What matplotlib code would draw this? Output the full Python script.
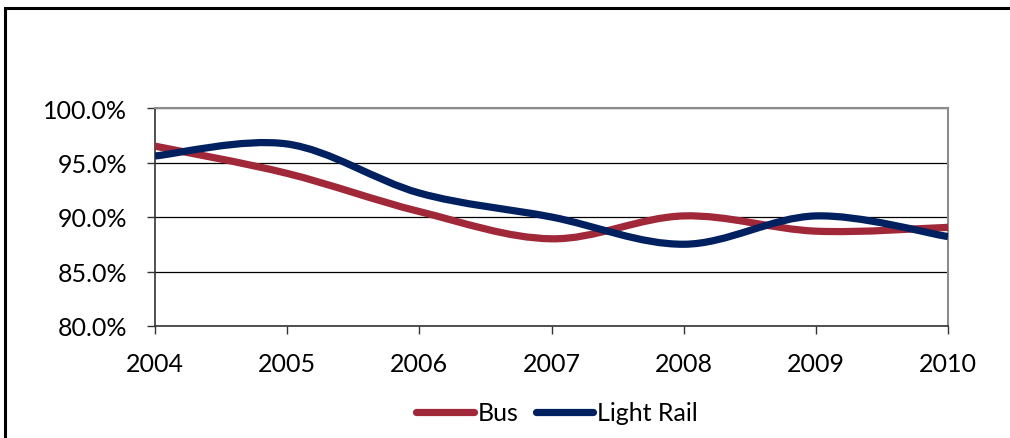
import matplotlib.pyplot as plt
from matplotlib.path import Path
from matplotlib.patches import PathPatch, Rectangle
from matplotlib.lines import Line2D
from matplotlib.ticker import FuncFormatter

years = [2004, 2005, 2006, 2007, 2008, 2009, 2010]
bus = [96.5, 94.0, 90.5, 88.0, 90.1, 88.7, 89.05]
light_rail = [95.6, 96.7, 92.2, 90.0, 87.5, 90.1, 88.2]

bus_color = '#A02838'
rail_color = '#00205F'


def smooth_path(x, y):
    # Excel-style smoothed line: cubic bezier, Catmull-Rom control points
    verts = [(x[0], y[0])]
    codes = [Path.MOVETO]
    n = len(x)
    for i in range(n - 1):
        x0, y0 = (x[i - 1], y[i - 1]) if i > 0 else (x[i], y[i])
        x3, y3 = (x[i + 2], y[i + 2]) if i + 2 < n else (x[i + 1], y[i + 1])
        c1 = (x[i] + (x[i + 1] - x0) / 6, y[i] + (y[i + 1] - y0) / 6)
        c2 = (x[i + 1] - (x3 - x[i]) / 6, y[i + 1] - (y3 - y[i]) / 6)
        verts += [c1, c2, (x[i + 1], y[i + 1])]
        codes += [Path.CURVE4] * 3
    return Path(verts, codes)


plt.rcParams['font.family'] = ['Lato', 'DejaVu Sans']

fig = plt.figure(figsize=(10.1, 4.39), dpi=100)
ax = fig.add_axes([155 / 1010, 1 - 327 / 439, (948 - 155) / 1010, (327 - 109) / 439])

for vals, col in [(bus, bus_color), (light_rail, rail_color)]:
    ax.add_patch(PathPatch(smooth_path(years, vals), fill=False, edgecolor=col,
                           linewidth=5.2, capstyle='butt', zorder=3))

ax.set_xlim(2004, 2010)
ax.set_ylim(80, 100)
ax.set_xticks(years)
ax.set_yticks([80, 85, 90, 95, 100])
ax.yaxis.set_major_formatter(FuncFormatter(lambda v, p: f'{v:.1f}%'))
ax.grid(axis='y', color='black', linewidth=0.9)
ax.set_axisbelow(True)
ax.tick_params(labelsize=18, length=6, width=1, direction='out', color='#333333')
ax.tick_params(axis='x', pad=13)
ax.tick_params(axis='y', pad=14)
for s in ['top', 'right']:
    ax.spines[s].set_color('#8c8c8c')
    ax.spines[s].set_linewidth(1.5)
for s in ['left', 'bottom']:
    ax.spines[s].set_color('#333333')
    ax.spines[s].set_linewidth(1.2)

handles = [Line2D([], [], color=bus_color, linewidth=5.2, solid_capstyle='round'),
           Line2D([], [], color=rail_color, linewidth=5.2, solid_capstyle='round')]
fig.legend(handles, ['Bus', 'Light Rail'], loc='center', bbox_to_anchor=(557 / 1010, 1 - 414 / 439),
           ncol=2, frameon=False, fontsize=18, handlelength=2.3, handletextpad=0.15,
           columnspacing=0.7)

fig.patches.append(Rectangle((5 / 1010, -0.05), 1.1, 1 - 9 / 439 + 0.05, transform=fig.transFigure,
                             fill=False, edgecolor='black', linewidth=2.2))

fig.savefig('out.png', dpi=100)
